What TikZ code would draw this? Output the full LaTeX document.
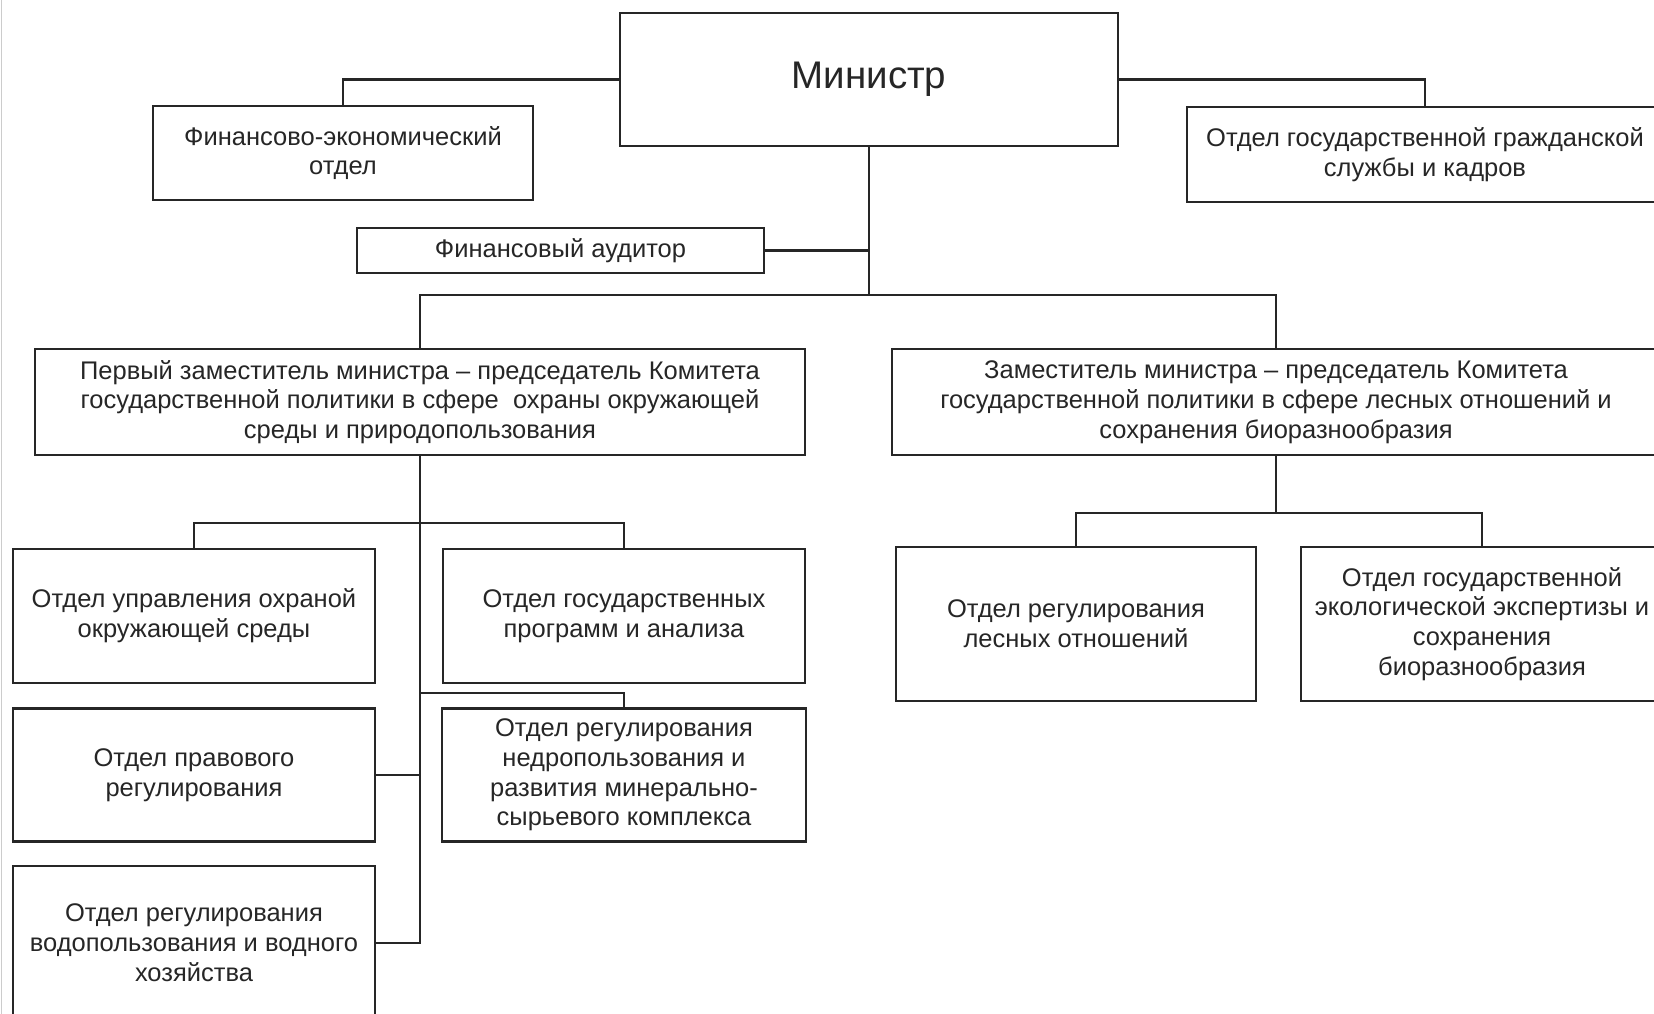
\documentclass[tikz,border=0pt]{standalone}
\usepackage{fontspec}
\setmainfont{Liberation Sans}
\usetikzlibrary{positioning}
\begin{document}
\begin{tikzpicture}[x=1pt, y=-1pt, node distance=23pt,
  line width=2.4pt, color=black!85,
  box/.style = {draw, rectangle, inner sep=0pt, align=center, text=black!85,
    font=\fontsize{25.5}{29.8}\selectfont},
  wide/.style = {box, minimum width=770pt, minimum height=106pt},
  dept/.style = {box, minimum width=362pt, minimum height=134pt}]
\useasboundingbox (0,0) rectangle (1654,1014);
\draw[line width=1pt, black!20] (1,0) -- (1,1014);
% top level
\node[box, minimum width=498pt, minimum height=133pt, font=\fontsize{38.5}{44}\selectfont] (min) at (869,79.5) {Министр};
\node[box, minimum width=380pt, minimum height=94pt] (fin) at (343,153) {Финансово-экономический\\отдел};
\node[box, minimum width=476pt, minimum height=95pt] (hr) at (1425,154.5) {Отдел государственной гражданской\\службы и кадров};
\node[box, minimum width=407pt, minimum height=45pt] (aud) at (560.5,250.5) {Финансовый аудитор};
% deputies
\node[wide] (dep1) at (420,402) {Первый заместитель министра – председатель Комитета\\государственной политики в сфере\ \ охраны окружающей\\среды и природопользования};
\node[wide, minimum width=768pt] (dep2) at (1276,402) {Заместитель министра – председатель Комитета\\государственной политики в сфере лесных отношений и\\сохранения биоразнообразия};
% departments
\node[dept] (eco) at (194,616) {Отдел управления охраной\\окружающей среды};
\node[dept] (prog) at (624,616) {Отдел государственных\\программ и анализа};
\node[dept, minimum height=133pt] (law) [below=of eco] {Отдел правового\\регулирования};
\node[dept, minimum width=364pt, minimum height=133pt] (nedra) [below=of prog.south, anchor=north] {Отдел регулирования\\недропользования и\\развития минерально-\\сырьевого комплекса};
\node[dept, minimum height=154pt] (water) [below=22pt of law] {Отдел регулирования\\водопользования и водного\\хозяйства};
\node[dept, minimum width=360pt, minimum height=154pt] (forest) at (1076,624) {Отдел регулирования\\лесных отношений};
\node[dept, minimum height=154pt] (expert) at (1482,624) {Отдел государственной\\экологической экспертизы и\\сохранения\\биоразнообразия};
\coordinate (bus) at (869,295);
\coordinate (b1) at (420,523);
\coordinate (b2) at (420,693);
\coordinate (b3) at (1276,513);
\draw (min.west) -| (fin.north);
\draw (min.east) -| (hr.north);
\draw (aud.east) -- (aud.east -| min.south);
\draw (min.south) -- (bus);
\draw (dep1.north) |- (bus) -| (dep2.north);
\draw (dep1.south) |- (water.east);
\draw (eco.north) |- (b1) -| (prog.north);
\draw (b2) -| (nedra.north);
\draw (law.east) -- (law.east -| dep1.south);
\draw (dep2.south) -- (b3);
\draw (forest.north) |- (b3) -| (expert.north);
\end{tikzpicture}
\end{document}
